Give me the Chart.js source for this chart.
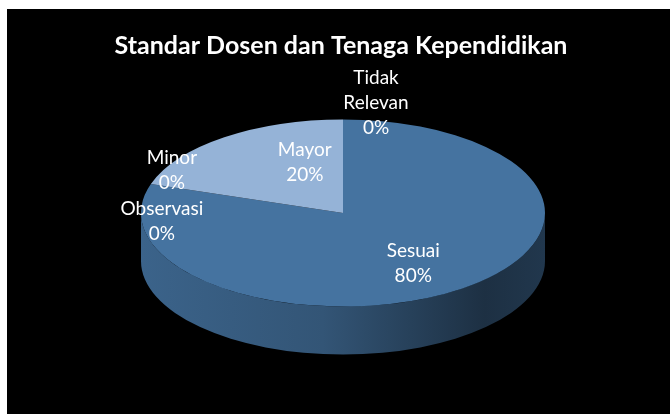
<!DOCTYPE html>
<html>
<head>
<meta charset="utf-8">
<script src="https://cdn.jsdelivr.net/npm/chart.js@4/dist/chart.umd.min.js"></script>
<style>
  html, body { margin: 0; padding: 0; background: #fff; }
  canvas { display: block; }
</style>
</head>
<body>
<canvas id="pie3d" width="670" height="414"></canvas>
<script>
// data
const categories = ["Sesuai", "Observasi", "Minor", "Mayor", "Tidak Relevan"];
const values = [80, 0, 0, 20, 0];
const sliceColors = ["#4573a0", "#4573a0", "#4573a0", "#95b3d7", "#4573a0"];

// how the fake 3d pie sits on the canvas
const pieCenter = { x: 343, y: 213 };
const pieRadius = { x: 202, y: 93.5 };
const pieDepth = 48;

// label nudges (px) from the spot computed off each slice
const labelNudge = {
  "Sesuai": [-1, 5],
  "Observasi": [11, 37],
  "Minor": [21, -14],
  "Mayor": [33, -5],
  "Tidak Relevan": [33, -17],
};

function shade(hex, f) {
  const n = parseInt(hex.slice(1), 16);
  const r = Math.round(((n >> 16) & 255) * f);
  const g = Math.round(((n >> 8) & 255) * f);
  const b = Math.round((n & 255) * f);
  return "rgb(" + r + "," + g + "," + b + ")";
}

const background = {
  id: "background",
  beforeDraw(chart) {
    const ctx = chart.ctx;
    ctx.save();
    ctx.fillStyle = "#ffffff";
    ctx.fillRect(0, 0, chart.width, chart.height);
    ctx.fillStyle = "#000000";
    ctx.fillRect(7, 9, chart.width - 7, chart.height - 9);
    ctx.restore();
  },
};

const fake3d = {
  id: "fake3d",
  beforeDatasetsDraw(chart) {
    const ctx = chart.ctx;
    const arcs = chart.getDatasetMeta(0).data;
    const cx = pieCenter.x, cy = pieCenter.y, rx = pieRadius.x, ry = pieRadius.y;

    // side wall, only the front half (sin > 0) shows
    arcs.forEach((arc, i) => {
      if (!values[i]) return;
      const s = arc.startAngle, e = arc.endAngle;
      [[0, Math.PI], [2 * Math.PI, 3 * Math.PI], [-2 * Math.PI, -Math.PI]].forEach(([lo, hi]) => {
        const a = Math.max(s, lo), b = Math.min(e, hi);
        if (b <= a) return;
        const grad = ctx.createLinearGradient(cx - rx, 0, cx + rx, 0);
        const base = sliceColors[i];
        grad.addColorStop(0, shade(base, 0.86));
        grad.addColorStop(0.45, shade(base, 0.74));
        grad.addColorStop(0.85, shade(base, 0.42));
        grad.addColorStop(1, shade(base, 0.48));
        ctx.save();
        ctx.beginPath();
        ctx.ellipse(cx, cy, rx, ry, 0, a, b);
        ctx.ellipse(cx, cy + pieDepth, rx, ry, 0, b, a, true);
        ctx.closePath();
        ctx.fillStyle = grad;
        ctx.fill();
        ctx.restore();
      });
    });

    // squash the library's pie into the top face
    const first = arcs[0];
    const R = first.outerRadius;
    ctx.save();
    ctx.translate(cx, cy);
    ctx.scale(rx / R, ry / R);
    ctx.translate(-first.x, -first.y);
  },
  afterDatasetsDraw(chart) {
    const ctx = chart.ctx;
    ctx.restore();

    const arcs = chart.getDatasetMeta(0).data;
    const total = values.reduce((a, b) => a + b, 0);
    ctx.save();
    ctx.fillStyle = "#ffffff";
    ctx.font = "19px Lato";
    ctx.textAlign = "center";
    ctx.textBaseline = "middle";
    const lineH = 25;
    arcs.forEach((arc, i) => {
      const name = categories[i];
      const f = values[i] ? 0.6 : 1;
      const mid = values[i] ? (arc.startAngle + arc.endAngle) / 2 : arc.startAngle;
      const nudge = labelNudge[name] || [0, 0];
      const x = pieCenter.x + pieRadius.x * f * Math.cos(mid) + nudge[0];
      const y = pieCenter.y + pieRadius.y * f * Math.sin(mid) + nudge[1];
      const lines = name.split(" ").concat(Math.round(values[i] / total * 100) + "%");
      const top = y - (lines.length - 1) * lineH / 2;
      lines.forEach((t, k) => ctx.fillText(t, x, top + k * lineH));
    });
    ctx.restore();
  },
};

new Chart(document.getElementById("pie3d"), {
  type: "pie",
  data: {
    labels: categories,
    datasets: [{
      data: values,
      backgroundColor: sliceColors,
      borderWidth: 0,
    }],
  },
  options: {
    responsive: false,
    animation: false,
    events: [],
    layout: { padding: { left: 12, top: 31, bottom: 20 } },
    plugins: {
      legend: { display: false },
      tooltip: { enabled: false },
      title: {
        display: true,
        text: "Standar Dosen dan Tenaga Kependidikan",
        color: "#ffffff",
        font: { family: "Lato", size: 25, weight: "bold" },
        padding: { top: 0, bottom: 10 },
      },
    },
  },
  plugins: [background, fake3d],
});
</script>
</body>
</html>
